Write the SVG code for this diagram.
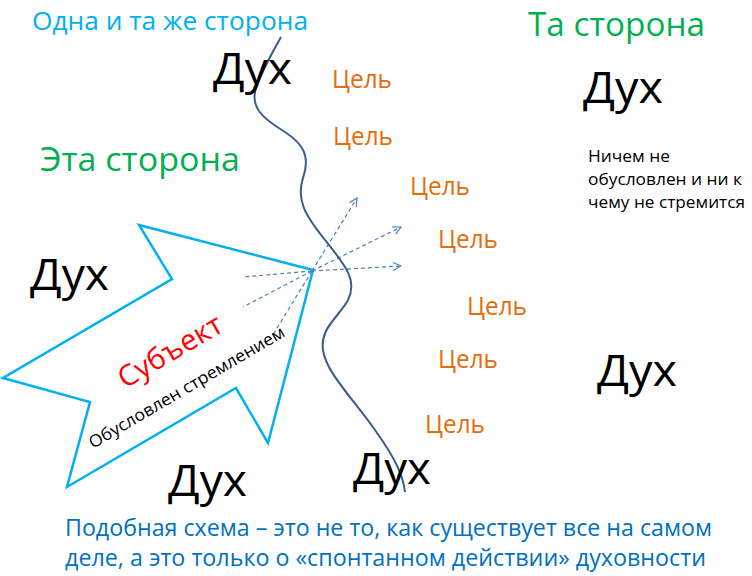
<svg xmlns="http://www.w3.org/2000/svg" width="752" height="576" viewBox="0 0 752 576">
<defs>
<style>
text{font-family:"Open Sans","Noto Sans","Liberation Sans",sans-serif}
.dux{font-size:44px;fill:#000}
.goal{font-size:26px;fill:#E46C0A}
.green{font-size:33px;fill:#00B050}
.dash{fill:none;stroke:#4F81BD;stroke-width:1.2;stroke-dasharray:4 3}
</style>
<marker id="open" viewBox="0 0 10 10" refX="9" refY="5" markerWidth="10" markerHeight="10" markerUnits="userSpaceOnUse" orient="auto">
<path d="M1,1 L9,5 L1,9" fill="none" stroke="#4F81BD" stroke-width="1.2"/>
</marker>
</defs>
<rect width="752" height="576" fill="#fff"/>

<g id="headers">
<text x="32" y="30" font-size="25" fill="#00B0F0" textLength="276" lengthAdjust="spacingAndGlyphs">Одна и та же сторона</text>
<text x="528" y="36" class="green" textLength="177" lengthAdjust="spacingAndGlyphs">Та сторона</text>
<text x="40" y="171" class="green" textLength="200" lengthAdjust="spacingAndGlyphs">Эта сторона</text>
</g>

<g id="subject">
<polygon points="313,270 139,225 172,279 3,378 90,402 67,487 236,388 268,443" fill="none" stroke="#00B0F0" stroke-width="2.5" stroke-linejoin="miter"/>
<text x="125" y="389" font-size="29" fill="#FF0000" transform="rotate(-30.4 125 389)" textLength="116" lengthAdjust="spacingAndGlyphs">Субъект</text>
<text x="93" y="449" font-size="17" fill="#000" transform="rotate(-30.4 93 449)" textLength="224" lengthAdjust="spacingAndGlyphs">Обусловлен стремлением</text>
</g>

<g id="connectors">
<path class="dash" d="M312,271 L357,198" marker-end="url(#open)"/>
<path class="dash" d="M312,271 L401,227" marker-end="url(#open)"/>
<path class="dash" d="M312,271 L401,266" marker-end="url(#open)"/>
<path class="dash" d="M312,271 L243,277"/>
<path class="dash" d="M312,271 L243,307"/>
<path class="dash" d="M312,271 L274,333"/>
</g>

<g id="boundary">
<path d="M281,37 C270,57 258,78 255,92 C252,108 262,118 285,132 C305,145 310,158 303,178 C296,200 305,215 325,240 C345,265 358,280 348,300 C338,318 320,328 323,350 C326,372 350,395 375,430 C395,458 403,475 405,492" fill="none" stroke="#385D8A" stroke-width="2"/>
</g>

<g id="spirits">
<text class="dux" x="213" y="84" textLength="79" lengthAdjust="spacingAndGlyphs">Дух</text>
<text class="dux" x="583" y="103" textLength="80" lengthAdjust="spacingAndGlyphs">Дух</text>
<text class="dux" x="30" y="290" textLength="79" lengthAdjust="spacingAndGlyphs">Дух</text>
<text class="dux" x="168" y="496" textLength="79" lengthAdjust="spacingAndGlyphs">Дух</text>
<text class="dux" x="353" y="484" textLength="78" lengthAdjust="spacingAndGlyphs">Дух</text>
<text class="dux" x="597" y="386" textLength="80" lengthAdjust="spacingAndGlyphs">Дух</text>
</g>

<g id="goals">
<text class="goal" x="332" y="88" textLength="60" lengthAdjust="spacingAndGlyphs">Цель</text>
<text class="goal" x="333" y="145" textLength="60" lengthAdjust="spacingAndGlyphs">Цель</text>
<text class="goal" x="410" y="195" textLength="60" lengthAdjust="spacingAndGlyphs">Цель</text>
<text class="goal" x="438" y="248" textLength="60" lengthAdjust="spacingAndGlyphs">Цель</text>
<text class="goal" x="467" y="315" textLength="60" lengthAdjust="spacingAndGlyphs">Цель</text>
<text class="goal" x="438" y="368" textLength="60" lengthAdjust="spacingAndGlyphs">Цель</text>
<text class="goal" x="425" y="433" textLength="60" lengthAdjust="spacingAndGlyphs">Цель</text>
</g>

<g id="note">
<text x="588" y="162" font-size="16" fill="#000" textLength="82" lengthAdjust="spacingAndGlyphs">Ничем не</text>
<text x="588" y="185" font-size="16" fill="#000" textLength="154" lengthAdjust="spacingAndGlyphs">обусловлен и ни к</text>
<text x="588" y="208" font-size="16" fill="#000" textLength="157" lengthAdjust="spacingAndGlyphs">чему не стремится</text>
</g>

<g id="caption">
<text x="65" y="536" font-size="23" fill="#0070C0" textLength="647" lengthAdjust="spacingAndGlyphs">Подобная схема – это не то, как существует все на самом</text>
<text x="65" y="566" font-size="23" fill="#0070C0" textLength="641" lengthAdjust="spacingAndGlyphs">деле, а это только о «спонтанном действии» духовности</text>
</g>
</svg>
